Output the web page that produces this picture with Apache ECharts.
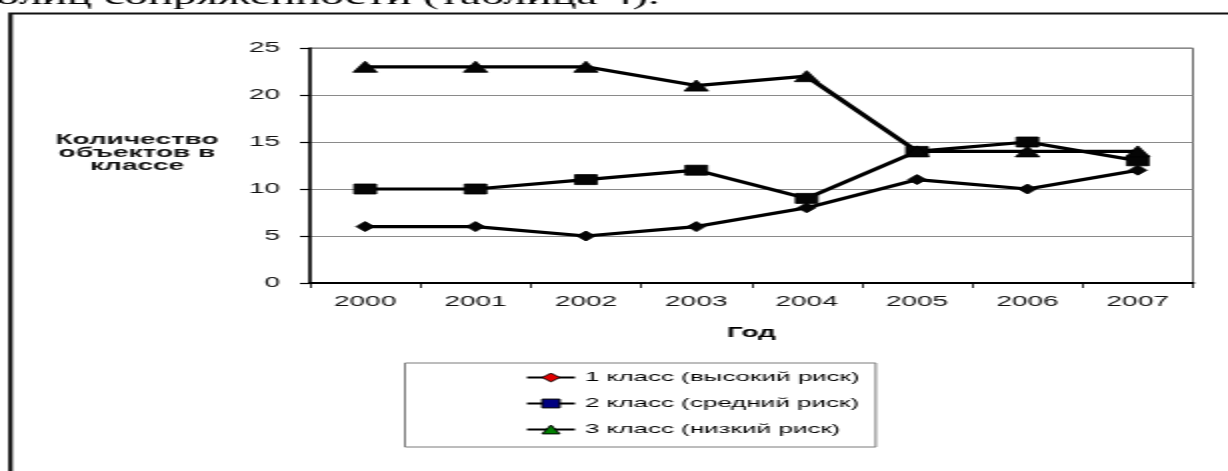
<!DOCTYPE html>
<html>
<head>
<meta charset="utf-8">
<script src="https://cdn.jsdelivr.net/npm/echarts@6/dist/echarts.min.js"></script>
<style>
  html, body { margin: 0; padding: 0; background: #ffffff; overflow: hidden; }
  /* the figure is drawn in a box half as wide and then widened twofold */
  #chart { width: 614px; height: 471px; transform: scaleX(2); transform-origin: 0 0; }
</style>
</head>
<body>
<div id="chart"></div>
<script>
// Годы наблюдения
const years = ['2000', '2001', '2002', '2003', '2004', '2005', '2006', '2007'];
// Количество объектов в каждом классе риска
const class1High = [6, 6, 5, 6, 8, 11, 10, 12];
const class2Mid  = [10, 10, 11, 12, 9, 14, 15, 13];
const class3Low  = [23, 23, 23, 21, 22, 14, 14, 14];
const seriesNames = ['1 класс (высокий риск)', '2 класс (средний риск)', '3 класс (низкий риск)'];
const legendFills = ['#e00000', '#000080', '#008000'];
const yTicks = [0, 5, 10, 15, 20, 25];

const chart = echarts.init(document.getElementById('chart'), null, { renderer: 'canvas' });

const txt = { fontFamily: 'Liberation Sans', color: '#111' };

// markers on the plot are solid black; the legend keeps the coloured fills
function lineSeries(name, data, symbol, size) {
  return {
    name: name,
    type: 'line',
    data: data,
    symbol: symbol,
    symbolSize: size,
    showAllSymbol: true,
    lineStyle: { color: '#000', width: 3.2 },
    itemStyle: { color: '#050505', borderColor: '#000', borderWidth: 0.8 },
    emphasis: { disabled: true },
    animation: false
  };
}

chart.setOption({
  backgroundColor: '#ffffff',
  animation: false,
  grid: {
    left: 155, right: 17.5, top: 48, bottom: 188,
    show: true, borderColor: '#6a6a6a', borderWidth: 1, backgroundColor: '#ffffff'
  },
  xAxis: {
    type: 'category',
    data: years,
    boundaryGap: true,
    name: 'Год',
    nameLocation: 'middle',
    nameGap: 43,
    nameTextStyle: Object.assign({}, txt, { fontSize: 14, fontWeight: 'bold', color: '#000' }),
    axisLine: { lineStyle: { color: '#000', width: 2 } },
    axisTick: { show: true, alignWithLabel: false, length: 5, lineStyle: { color: '#000', width: 0.8 } },
    axisLabel: Object.assign({}, txt, { fontSize: 14, margin: 12 })
  },
  yAxis: {
    type: 'value',
    min: yTicks[0],
    max: yTicks[yTicks.length - 1],
    interval: yTicks[1] - yTicks[0],
    axisLine: { show: true, lineStyle: { color: '#000', width: 1.5 } },
    axisTick: { show: true, length: 5, lineStyle: { color: '#000', width: 1.2 } },
    axisLabel: Object.assign({}, txt, { fontSize: 14, margin: 15 }),
    splitLine: { show: true, lineStyle: { color: '#8a8a8a', width: 1 } }
  },
  legend: {
    orient: 'vertical',
    left: 202.5,
    top: 363,
    padding: [8, 8, 11, 60],
    itemGap: 13,
    itemWidth: 24,
    itemHeight: 11,
    borderColor: '#7a7a7a',
    borderWidth: 1,
    backgroundColor: '#ffffff',
    selectedMode: false,
    textStyle: Object.assign({}, txt, { fontSize: 13, color: '#000' }),
    data: seriesNames.map((n, i) => ({
      name: n,
      itemStyle: { color: legendFills[i], borderColor: '#000', borderWidth: 1 },
      lineStyle: { color: '#000', width: 2 }
    }))
  },
  graphic: [
    // рамка рисунка
    {
      type: 'rect', silent: true, z: 100,
      shape: { x: 5.25, y: 13.5, width: 1000, height: 1000 },
      style: { fill: 'none', stroke: '#111', lineWidth: 2.2 }
    },
    // строка текста над рисунком
    {
      type: 'text', silent: true, z: 100,
      x: -2, y: 10.5, scaleX: 0.9,
      style: {
        text: 'олиц сопряженности (таблица 4).',
        fontSize: 26,
        fontFamily: 'Liberation Serif',
        fill: '#000',
        verticalAlign: 'bottom'
      }
    },
    // подпись оси значений
    {
      type: 'text', silent: true, z: 100,
      x: 68.5, y: 153.5,
      style: {
        text: 'Количество\nобъектов в\nклассе',
        fontSize: 14,
        fontWeight: 'bold',
        fontFamily: 'Liberation Sans',
        lineHeight: 13,
        fill: '#111',
        align: 'center',
        verticalAlign: 'middle'
      }
    }
  ],
  series: [
    lineSeries(seriesNames[0], class1High, 'diamond', [9, 10]),
    lineSeries(seriesNames[1], class2Mid, 'rect', [11, 10]),
    lineSeries(seriesNames[2], class3Low, 'triangle', [12, 11])
  ]
});
</script>
</body>
</html>
